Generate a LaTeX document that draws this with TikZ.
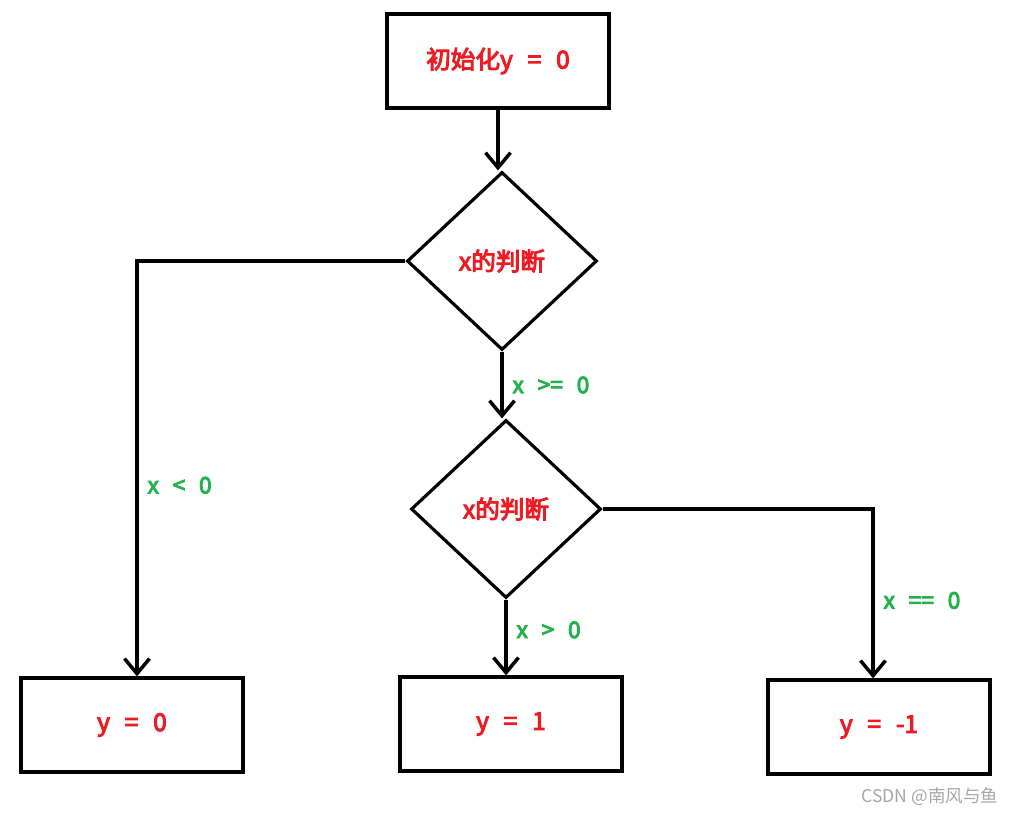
\documentclass[tikz,border=0pt]{standalone}
\usepackage{fontspec}
\setmainfont{Noto Sans CJK SC}
\newfontfamily\heavy{Noto Sans CJK SC}[FakeBold=4]
\usepackage{tikz}
\usetikzlibrary{shapes.geometric,arrows.meta,positioning}
\definecolor{paintred}{RGB}{237,28,36}
\definecolor{paintgreen}{RGB}{34,177,76}
\newcommand{\gap}{\hspace{0.6em}}
\tikzset{
    box/.style={rectangle, draw, line width=1.9pt, minimum width=4.44cm, minimum height=1.88cm,
                font=\heavy\fontsize{14}{16}\selectfont, text=paintred},
    decide/.style={diamond, draw, line width=1.8pt, minimum width=3.8cm, minimum height=3.56cm,
                inner sep=0pt, font=\heavy\fontsize{14}{16}\selectfont, text=paintred},
    flow/.style={draw, line width=2pt, -{Straight Barb[length=3mm,width=5mm]}},
    cond/.style={font=\heavy\fontsize{13}{15}\selectfont, text=paintgreen, inner sep=5pt},
}
\begin{document}
\begin{tikzpicture}[x=0.02cm, y=-0.02cm]
\useasboundingbox (0,0) rectangle (1015,816);

% Nodes
\node[box] (init) at (498,61) {初始化y\gap=\gap0};
\node[decide] (test1) at (502,261) {x的判断};
\node[decide] (test2) at (506,509) {x的判断};
\node[box] (neg) at (132,725) {y\gap=\gap0};
\node[box] (pos) at (511,724) {y\gap=\gap1};
\node[box] (zero) at (879,727) {y\gap=\gap-1};

% Edges
\draw[flow] (init.south) -- (init.south |- test1.north);
\draw[flow] (test1.west) -| ([xshift=0.1cm]neg.north) node[pos=0.77, right, cond] {x\gap<\gap0};
\draw[flow] (test1.south) -- (test1.south |- test2.north) node[midway, right, cond] {x\gap>=\gap0};
\draw[flow] (test2.south) -- (test2.south |- pos.north) node[pos=0.4, right, cond] {x\gap>\gap0};
\draw[flow] (test2.east) -| ([xshift=-0.12cm]zero.north) node[pos=0.77, right, cond] {x\gap==\gap0};

% Watermark
\node[text=gray!70, font=\fontsize{10}{12}\selectfont] (mark) at (930,797) {CSDN @南风与鱼};
\end{tikzpicture}
\end{document}
